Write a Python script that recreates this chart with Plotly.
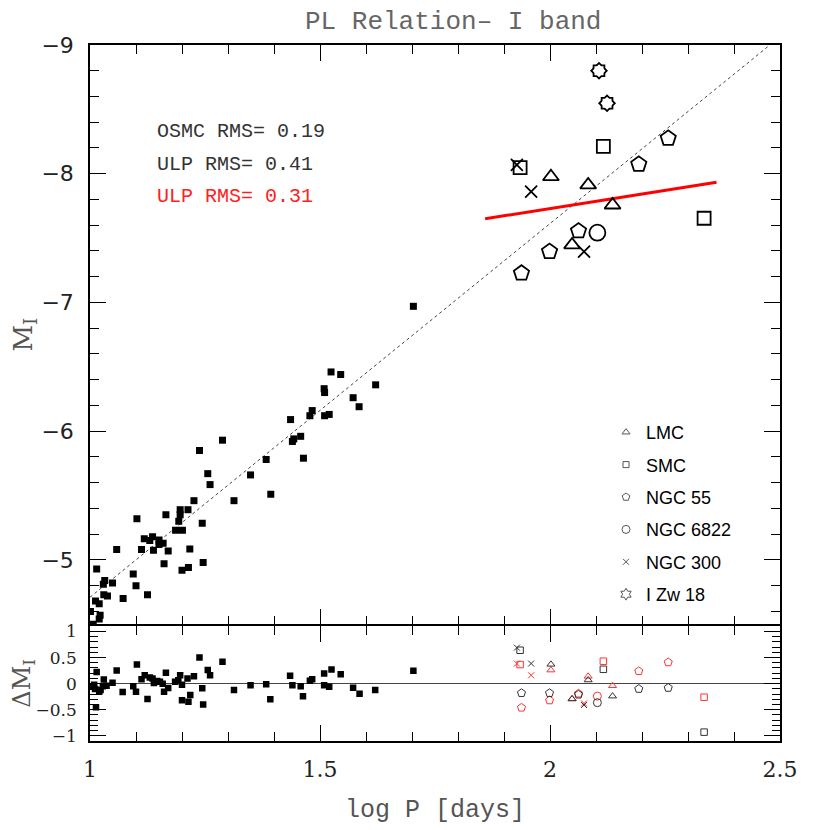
import plotly.graph_objects as go

# ---------------- data ----------------
# OSMC calibrating Cepheids (filled squares, top panel)
osmc_logp = [1.288, 1.238, 1.383, 1.256, 1.349, 1.261, 1.393, 1.226, 1.313, 1.196,
             1.213, 1.102, 1.165, 1.196, 1.193, 1.244, 1.186, 1.201, 1.118, 1.136,
             1.130, 1.150, 1.150, 1.159, 1.058, 1.112, 1.138, 1.170, 1.217, 1.161,
             1.200, 1.214, 1.246, 1.0145, 1.094, 1.100, 1.032, 1.029, 1.049, 1.030,
             1.038, 1.125, 1.072, 1.012, 1.020, 1.001, 1.022, 1.020, 1.007, 1.703,
             1.524, 1.545, 1.621, 1.509, 1.510, 1.572, 1.585, 1.483, 1.478, 1.510,
             1.520, 1.436, 1.458, 1.440, 1.443, 1.464]
osmc_mi = [-5.93, -5.85, -5.78, -5.67, -5.66, -5.585, -5.51, -5.46, -5.46, -5.39,
           -5.39, -5.32, -5.35, -5.35, -5.30, -5.285, -5.23, -5.23, -5.165, -5.18,
           -5.15, -5.155, -5.12, -5.13, -5.08, -5.08, -5.075, -5.07, -5.085, -4.97,
           -4.92, -4.94, -4.98, -4.93, -4.89, -4.80, -4.84, -4.81, -4.82, -4.73,
           -4.72, -4.73, -4.70, -4.68, -4.66, -4.60, -4.57, -4.54, -4.50, -6.97,
           -6.46, -6.44, -6.36, -6.33, -6.30, -6.26, -6.19, -6.16, -6.12, -6.12,
           -6.13, -6.09, -5.96, -5.92, -5.94, -5.79]

# OSMC residuals (bottom panel)
osmc_res_logp = [1.0145, 1.009, 1.001, 1.011, 1.020, 1.023, 1.028, 1.030, 1.036, 1.049,
                 1.013, 1.058, 1.071, 1.094, 1.100, 1.102, 1.112, 1.119, 1.125, 1.130,
                 1.136, 1.139, 1.146, 1.152, 1.158, 1.161, 1.165, 1.170, 1.185, 1.192,
                 1.196, 1.200, 1.200, 1.214, 1.212, 1.218, 1.226, 1.238, 1.244, 1.246,
                 1.256, 1.261, 1.288, 1.313, 1.349, 1.383, 1.392, 1.435, 1.440, 1.458,
                 1.463, 1.478, 1.483, 1.509, 1.509, 1.520, 1.525, 1.545, 1.572, 1.586,
                 1.620, 1.703]
osmc_res_dmi = [0.225, -0.02, -0.06, -0.105, -0.155, -0.12, -0.05, 0.08, -0.04, 0.015,
                -0.455, 0.25, -0.16, -0.05, -0.155, 0.365, 0.085, 0.16, -0.295, 0.12,
                0.10, 0.01, 0.05, 0.035, 0.0, -0.155, 0.21, -0.085, 0.035, 0.065,
                0.16, -0.02, -0.32, -0.345, 0.10, -0.22, 0.14, 0.50, -0.09, -0.40,
                0.26, 0.16, 0.42, -0.12, -0.03, -0.01, -0.30, 0.15, -0.03, -0.05,
                -0.24, 0.055, 0.085, 0.195, -0.03, -0.06, 0.27, 0.18, -0.08, -0.195,
                -0.12, 0.245]

# OSMC fit (dotted) and ULP fit (red) end points
osmc_fit_logp = [1.0, 2.478]
osmc_fit_mi = [-4.71, -9.0]
ulp_fit_logp = [1.859, 2.362]
ulp_fit_mi = [-7.65, -7.934]

# Ultra-long-period Cepheids per host galaxy
lmc_logp = [2.002, 2.083, 2.136, 2.048]
lmc_mi = [-7.977, -7.913, -7.757, -7.447]
lmc_res_osmc = [0.37, 0.07, -0.24, -0.295]
lmc_res_ulp = [0.26, 0.14, -0.04, -0.29]

smc_logp = [1.935, 2.116, 2.335]
smc_mi = [-8.047, -8.213, -7.654]
smc_res_osmc = [0.64, 0.275, -0.93]
smc_res_ulp = [0.365, 0.43, -0.26]

ngc55_logp = [2.257, 2.193, 2.062, 1.999, 1.938]
ngc55_mi = [-8.275, -8.073, -7.555, -7.395, -7.227]
ngc55_res_osmc = [-0.08, -0.10, -0.21, -0.18, -0.18]
ngc55_res_ulp = [0.41, 0.24, -0.19, -0.32, -0.46]

ngc6822_logp = [2.103]
ngc6822_mi = [-7.542]
ngc6822_res_osmc = [-0.365]
ngc6822_res_ulp = [-0.24]

ngc300_logp = [1.928, 1.959, 2.074]
ngc300_mi = [-8.068, -7.861, -7.395]
ngc300_res_osmc = [0.69, 0.385, -0.41]
ngc300_res_ulp = [0.385, 0.16, -0.38]

izw18_logp = [2.1065, 2.124]
izw18_mi = [-8.80, -8.547]

rms_texts = ["OSMC RMS= 0.19", "ULP RMS= 0.41", "ULP RMS= 0.31"]

# ---------------- figure ----------------
W = H = 830
ML, MR, MT, MB = 82, 58, 37, 97
PW, PH = W - ML - MR, H - MT - MB  # 690 x 696
split = 116 / PH
half = 0.75 / PH
LW = 1.5

fig = go.Figure()

# top panel (x2, y2)
fig.add_trace(go.Scatter(x=osmc_fit_logp, y=osmc_fit_mi, mode="lines",
                         line=dict(color="#444", width=1, dash="dot"),
                         xaxis="x2", yaxis="y2", showlegend=False, hoverinfo="skip"))
fig.add_trace(go.Scatter(x=osmc_logp, y=osmc_mi, mode="markers",
                         marker=dict(symbol="square", size=7, color="black"),
                         xaxis="x2", yaxis="y2", showlegend=False))
fig.add_trace(go.Scatter(x=ulp_fit_logp, y=ulp_fit_mi, mode="lines",
                         line=dict(color="#ff0000", width=3),
                         xaxis="x2", yaxis="y2", showlegend=False))

big = [
    (lmc_logp, lmc_mi, "triangle-up-open", 14),
    (smc_logp, smc_mi, "square-open", 13),
    (ngc55_logp, ngc55_mi, "pentagon-open", 16),
    (ngc6822_logp, ngc6822_mi, "circle-open", 16),
    (ngc300_logp, ngc300_mi, "x-thin-open", 12),
]
for xs, ys, sym, sz in big:
    fig.add_trace(go.Scatter(x=xs, y=ys, mode="markers",
                             marker=dict(symbol=sym, size=sz, color="black",
                                         line=dict(width=1.8, color="black")),
                             xaxis="x2", yaxis="y2", showlegend=False))

# 8-point star for I Zw 18: black union outline then white fill
for sym, sz in [("square", 9), ("diamond", 10)]:
    fig.add_trace(go.Scatter(x=izw18_logp, y=izw18_mi, mode="markers",
                             marker=dict(symbol=sym, size=sz, color="black",
                                         line=dict(width=3.6, color="black")),
                             xaxis="x2", yaxis="y2", showlegend=False))
for sym, sz in [("square", 9), ("diamond", 10)]:
    fig.add_trace(go.Scatter(x=izw18_logp, y=izw18_mi, mode="markers",
                             marker=dict(symbol=sym, size=sz, color="white",
                                         line=dict(width=0)),
                             xaxis="x2", yaxis="y2", showlegend=False))

# bottom panel (x, y)
fig.add_trace(go.Scatter(x=osmc_res_logp, y=osmc_res_dmi, mode="markers",
                         marker=dict(symbol="square", size=6.5, color="black"),
                         showlegend=False))
small = [
    (lmc_logp, lmc_res_osmc, lmc_res_ulp, "triangle-up-open", 7),
    (smc_logp, smc_res_osmc, smc_res_ulp, "square-open", 6.5),
    (ngc55_logp, ngc55_res_osmc, ngc55_res_ulp, "pentagon-open", 8.5),
    (ngc6822_logp, ngc6822_res_osmc, ngc6822_res_ulp, "circle-open", 8),
    (ngc300_logp, ngc300_res_osmc, ngc300_res_ulp, "x-thin-open", 6),
]
for xs, yb, yr, sym, sz in small:
    fig.add_trace(go.Scatter(x=xs, y=yr, mode="markers",
                             marker=dict(symbol=sym, size=sz, color="#ff3333",
                                         line=dict(width=1, color="#ff3333")),
                             showlegend=False))
    fig.add_trace(go.Scatter(x=xs, y=yb, mode="markers",
                             marker=dict(symbol=sym, size=sz, color="#333",
                                         line=dict(width=1, color="#333")),
                             showlegend=False))

# legend entries
leg = [("LMC", "triangle-up-open", 7), ("SMC", "square-open", 6),
       ("NGC 55", "pentagon-open", 8), ("NGC 6822", "circle-open", 8),
       ("NGC 300", "x-thin-open", 6), ("I Zw 18", "hexagram-open", 9)]
for i, (name, sym, sz) in enumerate(leg):
    fig.add_trace(go.Scatter(x=[None], y=[None], mode="markers", name=name,
                             legendgroup=str(i),
                             marker=dict(symbol=sym, size=sz, color="#555",
                                         line=dict(width=1, color="#555")),
                             xaxis="x2", yaxis="y2", showlegend=True))

axis_common = dict(showgrid=False, showline=True, linecolor="black", linewidth=LW,
                   mirror="allticks", ticks="inside", ticklen=16, tickwidth=1.3,
                   tickcolor="black")

xminor = dict(dtick=0.1, ticklen=9, tickwidth=1.3, ticks="inside", tickcolor="black")

fig.update_layout(
    width=W, height=H,
    margin=dict(l=ML, r=MR, t=MT, b=MB, autoexpand=False),
    paper_bgcolor="white", plot_bgcolor="white",
    xaxis=dict(domain=[0, 1], range=[1, 2.5], anchor="y", tick0=1, dtick=0.5,
               minor=xminor, zeroline=False,
               tickfont=dict(family="DejaVu Serif", size=22, color="#222"),
               ticklabelstandoff=8,
               title=dict(text="log P [days]", standoff=18,
                          font=dict(family="Liberation Mono", size=25, color="#555")),
               **axis_common),
    xaxis2=dict(domain=[0, 1], range=[1, 2.5], anchor="y2", matches="x", tick0=1, dtick=0.5,
                showticklabels=False, minor=xminor, zeroline=False,
                **axis_common),
    yaxis=dict(domain=[0, split - half], range=[-1.1, 1.11], anchor="x", tick0=0, dtick=0.5,
               minor=dict(dtick=0.1, ticklen=8, tickwidth=1.3, ticks="inside", tickcolor="black"),
               tickfont=dict(family="DejaVu Serif", size=17, color="#222"),
               ticklabelstandoff=8,
               title=dict(text="\u0394M<sub>I</sub>", standoff=14,
                          font=dict(family="DejaVu Serif", size=24, color="#555")),
               zeroline=True, zerolinecolor="#444", zerolinewidth=1,
               **axis_common),
    yaxis2=dict(domain=[split + half, 1], range=[-4.5, -9], anchor="x2", tick0=-9, dtick=1,
                minor=dict(dtick=0.2, ticklen=9, tickwidth=1.3, ticks="inside", tickcolor="black"),
                tickfont=dict(family="DejaVu Sans", size=22, color="#222"),
                ticklabelstandoff=10, zeroline=False,
                title=dict(text="M<sub>I</sub>", standoff=27,
                           font=dict(family="DejaVu Serif", size=26, color="#555")),
                **axis_common),
    legend=dict(x=(606 - 90) / PW, y=(741 - 414) / PH, xanchor="left", yanchor="top",
                font=dict(family="Liberation Sans", size=18, color="black"),
                bgcolor="rgba(0,0,0,0)", borderwidth=0, itemsizing="trace",
                traceorder="grouped", tracegroupgap=6),
    showlegend=True,
)

# title (as annotation so it can sit close to the page top)
fig.add_annotation(text="PL Relation\u2013 I band", xref="paper", yref="paper",
                   x=(453 - 90) / PW, y=(741 - 22) / PH, xanchor="center", yanchor="middle",
                   showarrow=False,
                   font=dict(family="Liberation Mono", size=26, color="#666"))

ann_y = [131, 164, 197]
ann_c = ["#333", "#333", "#ff2020"]
for t, yy, c in zip(rms_texts, ann_y, ann_c):
    fig.add_annotation(text=t, xref="paper", yref="paper", x=(155 - 90) / PW,
                       y=(741 - yy) / PH, xanchor="left", yanchor="middle",
                       showarrow=False, font=dict(family="Liberation Mono", size=20, color=c))

fig.write_html("out.html")
